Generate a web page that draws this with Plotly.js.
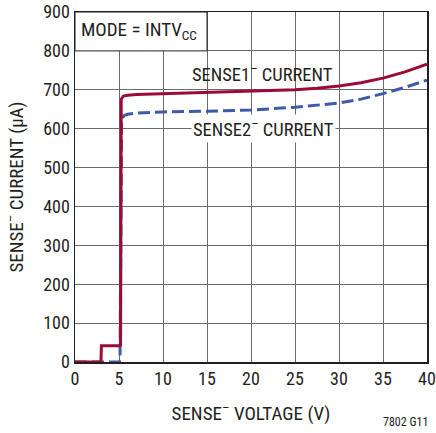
<!DOCTYPE html>
<html><head><meta charset="utf-8">
<script src="https://cdn.plot.ly/plotly-3.0.1.min.js"></script>
<style>html,body{margin:0;padding:0;background:#fff;}#chart{width:436px;height:433px;}</style>
</head><body><div id="chart"></div>
<script>
// SENSE- voltage (V) and currents (uA)
const sense1V = [0, 2.95, 3.0, 5.1, 5.18, 5.25, 5.5, 6, 7, 10, 15, 20, 25, 27.5, 30, 32.5, 35, 37.5, 40];
const sense1I = [0, 0, 42, 42, 44, 676, 684, 686, 688, 690, 692, 695, 700, 704, 710, 718, 730, 746, 766];
const sense2V = [0, 5.05, 5.12, 5.3, 5.6, 6, 7, 10, 15, 20, 25, 27.5, 30, 32.5, 35, 37.5, 40];
const sense2I = [0, 0, 20, 626, 634, 637, 640, 643, 645, 648, 655, 660, 666, 676, 690, 706, 725];
const xTicks = [0, 5, 10, 15, 20, 25, 30, 35, 40];
const yTicks = [0, 100, 200, 300, 400, 500, 600, 700, 800, 900];

const FONT = "'Liberation Sans Narrow', 'Arial Narrow', 'Roboto Condensed', Roboto, sans-serif";
const traces = [
  {x: sense2V, y: sense2I, mode: 'lines', line: {color: '#3f5aa8', width: 3, dash: '12px,5px'}, hoverinfo: 'skip'},
  {x: sense1V, y: sense1I, mode: 'lines', line: {color: '#9a0c36', width: 3}, hoverinfo: 'skip'}
];
const layout = {
  width: 436, height: 433,
  margin: {l: 75, r: 9, t: 12, b: 71},
  paper_bgcolor: '#fff', plot_bgcolor: '#fff',
  showlegend: false,
  font: {family: FONT, size: 18, color: '#231f20'},
  xaxis: {
    range: [0, 40], tickvals: xTicks, ticks: '', showgrid: true, gridcolor: '#6a6a6a', gridwidth: 1,
    zeroline: false, showline: true, linecolor: '#231f20', linewidth: 1.5, mirror: true,
    tickfont: {size: 18},
    title: {text: 'SENSE<sup>–</sup> VOLTAGE (V)', font: {size: 19}, standoff: 18}
  },
  yaxis: {
    range: [0, 900], tickvals: yTicks, ticks: '', showgrid: true, gridcolor: '#6a6a6a', gridwidth: 1,
    zeroline: false, showline: true, linecolor: '#231f20', linewidth: 1.5, mirror: true,
    tickfont: {size: 18},
    title: {text: 'SENSE<sup>–</sup> CURRENT (µA)', font: {size: 19}, standoff: 14}
  },
  shapes: [
    {type: 'rect', xref: 'x', yref: 'y', x0: 0, x1: 15, y0: 800, y1: 900, fillcolor: '#fff', line: {color: '#231f20', width: 1}, layer: 'between'}
  ],
  annotations: [
    {xref: 'x', yref: 'y', x: 0.4, y: 852, xanchor: 'left', yanchor: 'middle', text: 'MODE = INTV<sub>CC</sub>', showarrow: false, font: {size: 19}},
    {xref: 'x', yref: 'y', x: 21.3, y: 742, xanchor: 'center', yanchor: 'middle', text: 'SENSE1<sup>–</sup> CURRENT', showarrow: false, font: {size: 18.5}},
    {xref: 'x', yref: 'y', x: 21.4, y: 600, xanchor: 'center', yanchor: 'middle', text: 'SENSE2<sup>–</sup> CURRENT', showarrow: false, font: {size: 18.5}, bgcolor: '#fff', borderpad: 1},
    {xref: 'paper', yref: 'paper', x: 0.9375, y: -0.171, xanchor: 'center', yanchor: 'middle', text: '7802 G11', showarrow: false, font: {size: 12}}
  ]
};
Plotly.newPlot('chart', traces, layout, {staticPlot: true, displayModeBar: false});
</script>
</body></html>
